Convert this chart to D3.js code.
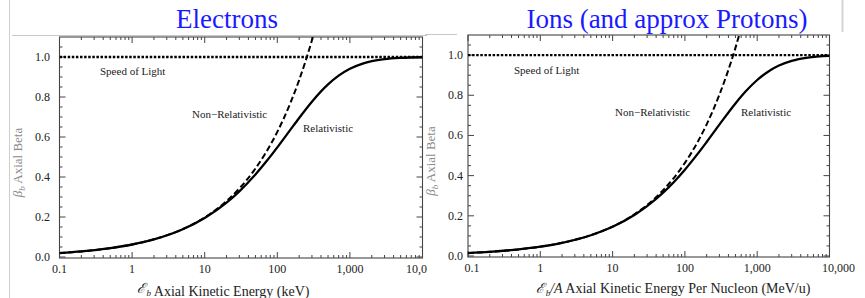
<!DOCTYPE html>
<html>
<head>
<meta charset="utf-8">
<script src="https://cdnjs.cloudflare.com/ajax/libs/d3/7.8.5/d3.min.js"></script>
<style>
  html, body { margin: 0; padding: 0; background: #fff; }
  svg { display: block; }
</style>
</head>
<body>
<svg id="chart" width="865" height="298"></svg>
<script>
// ---- data ----
const xTickVals = [0.1, 1, 10, 100, 1000, 10000];
const xTickText = ['0.1', '1', '10', '100', '1,000', '10,000'];
const yTickVals = [0, 0.2, 0.4, 0.6, 0.8, 1.0];

// electrons, kinetic energy in keV
const eEnergy = [0.1, 0.2, 0.5, 1, 2, 5, 10, 20, 30, 50, 70, 100, 150, 200, 300, 500, 700, 1000, 1500, 2000, 3000, 5000, 10000];
const eRel    = [0.0198, 0.0280, 0.0442, 0.0625, 0.0882, 0.1389, 0.1950, 0.2719, 0.3284, 0.4127, 0.4759, 0.5482, 0.6343, 0.6953, 0.7765, 0.8629, 0.9066, 0.9411, 0.9672, 0.9791, 0.9894, 0.9957, 0.9988];
const eNrEnergy = [0.1, 0.2, 0.5, 1, 2, 5, 10, 20, 30, 50, 70, 100, 150, 200, 300, 350];
const eNonRel   = [0.0198, 0.0280, 0.0442, 0.0626, 0.0885, 0.1399, 0.1978, 0.2798, 0.3427, 0.4424, 0.5234, 0.6256, 0.7662, 0.8848, 1.0836, 1.1704];

// ions, kinetic energy per nucleon in MeV/u
const iEnergy = [0.1, 0.2, 0.5, 1, 2, 5, 10, 20, 30, 50, 70, 100, 150, 200, 300, 500, 700, 1000, 1500, 2000, 3000, 5000, 10000];
const iRel    = [0.0147, 0.0207, 0.0328, 0.0463, 0.0654, 0.1032, 0.1454, 0.2040, 0.2479, 0.3151, 0.3673, 0.4295, 0.5081, 0.5677, 0.6541, 0.7593, 0.8210, 0.8760, 0.9237, 0.9482, 0.9715, 0.9876, 0.9964];
const iNrEnergy = [0.1, 0.2, 0.5, 1, 2, 5, 10, 20, 30, 50, 70, 100, 150, 200, 300, 500, 600];
const iNonRel   = [0.0147, 0.0207, 0.0328, 0.0463, 0.0655, 0.1036, 0.1465, 0.2072, 0.2538, 0.3277, 0.3877, 0.4634, 0.5675, 0.6553, 0.8026, 1.0361, 1.1350];

const lightSpeed = 1.0;

const panels = [
  { title: 'Electrons', titleX: 227, x0: 59.5, x1: 422.5, y0: 258, y1: 37, yLabX: 50, yTitleX: 22,
    xTitle: ['', ' Axial Kinetic Energy (keV)'], xTitleX: 223,
    rel: [eEnergy, eRel], nr: [eNrEnergy, eNonRel],
    lab: { sol: [100, 75], nr: [192, 118], rel: [303, 132] }, clipR: 427 },
  { title: 'Ions (and approx Protons)', titleX: 667, x0: 468, x1: 829.5, y0: 257, y1: 35, yLabX: 463, yTitleX: 435,
    xTitle: ['/A', ' Axial Kinetic Energy Per Nucleon (MeV/u)'], xTitleX: 673,
    rel: [iEnergy, iRel], nr: [iNrEnergy, iNonRel],
    lab: { sol: [514, 74], nr: [615, 116], rel: [741, 116] }, clipR: 865 }
];

const svg = d3.select('#chart');
const serif = '"Liberation Serif", "DejaVu Serif", serif';

// slide decoration lines
svg.append('line').attr('x1', 9.5).attr('x2', 9.5).attr('y1', 0).attr('y2', 298)
  .attr('stroke', '#cfcfcf').attr('stroke-width', 1);
svg.append('line').attr('x1', 12).attr('x2', 427).attr('y1', 35.5).attr('y2', 35.5)
  .attr('stroke', '#c8c8c8').attr('stroke-width', 1);
svg.append('line').attr('x1', 425).attr('x2', 457).attr('y1', 34.5).attr('y2', 34.5)
  .attr('stroke', '#c8c8c8').attr('stroke-width', 1);
svg.append('line').attr('x1', 842.5).attr('x2', 842.5).attr('y1', 0).attr('y2', 32)
  .attr('stroke', '#d4d4d4').attr('stroke-width', 2);

panels.forEach((p, pi) => {
  const x = d3.scaleLog().domain([0.1, 10000]).range([p.x0, p.x1]);
  const y = d3.scaleLinear().domain([-0.005, 1.1]).range([p.y0, p.y1]);

  svg.append('clipPath').attr('id', 'clip' + pi)
    .append('rect').attr('x', p.x0).attr('y', p.y1)
    .attr('width', p.x1 - p.x0).attr('height', p.y0 - p.y1);

  const g = svg.append('g');

  // title
  svg.append('text').attr('x', p.titleX).attr('y', 28)
    .attr('text-anchor', 'middle').attr('font-family', serif)
    .attr('font-size', 27).attr('fill', '#1a1aff').text(p.title);

  // frame
  g.append('rect').attr('x', p.x0).attr('y', p.y1)
    .attr('width', p.x1 - p.x0).attr('height', p.y0 - p.y1)
    .attr('fill', 'none').attr('stroke', '#444').attr('stroke-width', 1.1);

  // x ticks (major + minor), bottom and top, inward
  const minor = [];
  for (let d = 0.1; d < 10000; d *= 10)
    for (let k = 2; k <= 9; k++) minor.push(d * k);
  const tk = g.append('g').attr('stroke', '#444').attr('stroke-width', 1);
  xTickVals.forEach(v => {
    tk.append('line').attr('x1', x(v)).attr('x2', x(v)).attr('y1', p.y0).attr('y2', p.y0 - 6);
    tk.append('line').attr('x1', x(v)).attr('x2', x(v)).attr('y1', p.y1).attr('y2', p.y1 + 6);
  });
  minor.forEach(v => {
    tk.append('line').attr('x1', x(v)).attr('x2', x(v)).attr('y1', p.y0).attr('y2', p.y0 - 3);
    tk.append('line').attr('x1', x(v)).attr('x2', x(v)).attr('y1', p.y1).attr('y2', p.y1 + 3);
  });
  // y ticks left and right
  d3.range(0, 1.1, 0.05).forEach((v, i) => {
    const len = i % 4 === 0 ? 6 : 3;
    tk.append('line').attr('x1', p.x0).attr('x2', p.x0 + len).attr('y1', y(v)).attr('y2', y(v));
    tk.append('line').attr('x1', p.x1).attr('x2', p.x1 - len).attr('y1', y(v)).attr('y2', y(v));
  });

  // tick labels (clip the left panel like the slide image)
  svg.append('clipPath').attr('id', 'lc' + pi)
    .append('rect').attr('x', pi === 0 ? 0 : 427).attr('y', 0)
    .attr('width', p.clipR - (pi === 0 ? 0 : 427)).attr('height', 298);
  const lab = svg.append('g').attr('clip-path', `url(#lc${pi})`)
    .attr('font-family', serif).attr('font-size', 12).attr('fill', '#222');
  xTickVals.forEach((v, i) => {
    let dx = 0;
    if (pi === 1 && i === 0) dx = 4;
    if (pi === 1 && i === xTickVals.length - 1) dx = 9;
    lab.append('text').attr('x', x(v) + dx).attr('y', p.y0 + 15)
      .attr('text-anchor', 'middle').text(xTickText[i]);
  });
  yTickVals.forEach(v => {
    lab.append('text').attr('x', p.yLabX).attr('y', y(v) + 4)
      .attr('text-anchor', 'end').text(v.toFixed(1));
  });

  // axis titles
  const xt = svg.append('text').attr('x', p.xTitleX).attr('y', 293)
    .attr('text-anchor', 'middle').attr('font-family', serif)
    .attr('font-size', 14).attr('fill', '#222');
  xt.append('tspan').attr('font-family', '"DejaVu Serif", serif').attr('font-style', 'italic').text('\u2130');
  xt.append('tspan').attr('font-size', 9).attr('font-style', 'italic').attr('dx', 2).attr('dy', 3).text('b');
  xt.append('tspan').attr('dy', -3).attr('font-style', p.xTitle[0] ? 'italic' : 'normal').text(p.xTitle[0]);
  xt.append('tspan').text(p.xTitle[1]);

  const yt = svg.append('text')
    .attr('transform', `translate(${p.yTitleX},${(p.y0 + p.y1) / 2 + 15}) rotate(-90)`)
    .attr('text-anchor', 'middle').attr('font-family', serif)
    .attr('font-size', 13).attr('fill', '#8a8a8a');
  yt.append('tspan').attr('font-style', 'italic').text('\u03b2');
  yt.append('tspan').attr('font-size', 9).attr('font-style', 'italic').attr('dy', 3).text('b');
  yt.append('tspan').attr('dy', -3).text(' Axial Beta');

  // curves
  const plot = g.append('g').attr('clip-path', `url(#clip${pi})`);
  const line = d3.line().x(d => x(d[0])).y(d => y(d[1])).curve(d3.curveMonotoneX);

  plot.append('path').datum([[0.1, lightSpeed], [10000, lightSpeed]])
    .attr('d', line).attr('fill', 'none').attr('stroke', '#000')
    .attr('stroke-width', 2.4).attr('stroke-dasharray', '2.5,1.6');

  plot.append('path').datum(p.nr[0].map((e, i) => [e, p.nr[1][i]]))
    .attr('d', line).attr('fill', 'none').attr('stroke', '#000')
    .attr('stroke-width', 2).attr('stroke-dasharray', '6,3');

  plot.append('path').datum(p.rel[0].map((e, i) => [e, p.rel[1][i]]))
    .attr('d', line).attr('fill', 'none').attr('stroke', '#000')
    .attr('stroke-width', 2.3);

  // in-plot labels
  const tl = svg.append('g').attr('font-family', serif).attr('font-size', 11).attr('fill', '#222');
  tl.append('text').attr('x', p.lab.sol[0]).attr('y', p.lab.sol[1]).text('Speed of Light');
  tl.append('text').attr('x', p.lab.nr[0]).attr('y', p.lab.nr[1]).text('Non\u2212Relativistic');
  tl.append('text').attr('x', p.lab.rel[0]).attr('y', p.lab.rel[1]).text('Relativistic');
});
</script>
</body>
</html>
